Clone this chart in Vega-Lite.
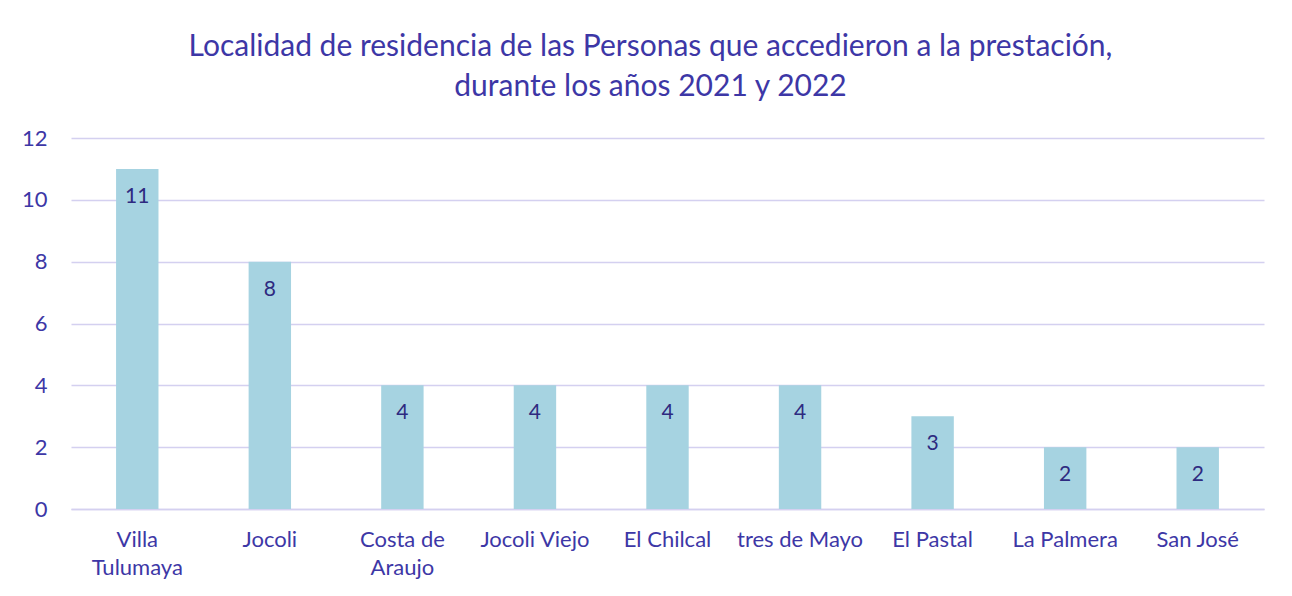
{
  "$schema": "https://vega.github.io/schema/vega-lite/v6.json",
  "autosize": {"type": "none"},
  "width": 1193,
  "height": 371,
  "padding": {"left": 71, "top": 138, "right": 28, "bottom": 87},
  "background": "white",
  "title": {
    "text": ["Localidad de residencia de las Personas que accedieron a la prestación,", "durante los años 2021 y 2022"],
    "font": "Lato",
    "fontSize": 30,
    "fontWeight": "normal",
    "color": "#3D37A6",
    "lineHeight": 40,
    "anchor": "middle",
    "dx": -17,
    "offset": 25
  },
  "data": {
    "values": [
      {"localidad": "Villa Tulumaya", "personas": 11},
      {"localidad": "Jocoli", "personas": 8},
      {"localidad": "Costa de Araujo", "personas": 4},
      {"localidad": "Jocoli Viejo", "personas": 4},
      {"localidad": "El Chilcal", "personas": 4},
      {"localidad": "tres de Mayo", "personas": 4},
      {"localidad": "El Pastal", "personas": 3},
      {"localidad": "La Palmera", "personas": 2},
      {"localidad": "San José", "personas": 2}
    ]
  },
  "encoding": {
    "x": {
      "field": "localidad",
      "type": "nominal",
      "sort": null,
      "scale": {"paddingInner": 0.68, "paddingOuter": 0.34},
      "axis": {
        "title": null,
        "labelAngle": 0,
        "labelFont": "Lato",
        "labelFontSize": 22,
        "labelColor": "#3D37A6",
        "labelLineHeight": 28,
        "labelPadding": 20,
        "ticks": false,
        "tickSize": 0,
        "domainColor": "#D4D0F0",
        "domainWidth": 1.5,
        "grid": false,
        "labelExpr": "datum.label == 'Villa Tulumaya' ? ['Villa', 'Tulumaya'] : datum.label == 'Costa de Araujo' ? ['Costa de', 'Araujo'] : datum.label"
      }
    },
    "y": {
      "field": "personas",
      "type": "quantitative",
      "scale": {"domain": [0, 12]},
      "axis": {
        "title": null,
        "values": [0, 2, 4, 6, 8, 10, 12],
        "labelFont": "Lato",
        "labelFontSize": 22,
        "labelColor": "#3D37A6",
        "labelPadding": 24,
        "ticks": false,
        "tickSize": 0,
        "domain": false,
        "gridColor": "#D4D0F0",
        "gridWidth": 1.5
      }
    }
  },
  "layer": [
    {"mark": {"type": "bar", "color": "#A6D3E1"}},
    {
      "mark": {"type": "text", "baseline": "middle", "dy": 28, "font": "Lato", "fontSize": 21, "color": "#2E2A80"},
      "encoding": {"text": {"field": "personas", "type": "quantitative"}}
    }
  ],
  "config": {"view": {"stroke": null}}
}
